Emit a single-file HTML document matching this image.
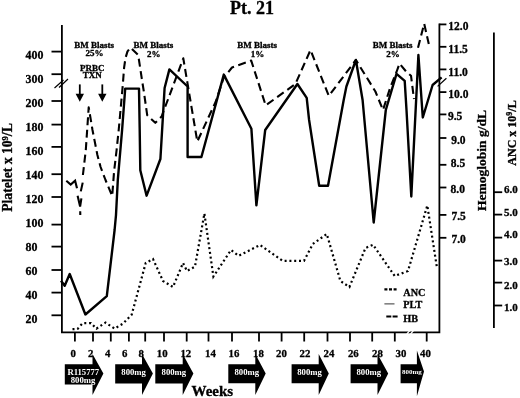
<!DOCTYPE html>
<html><head><meta charset="utf-8"><title>Pt. 21</title>
<style>html,body{margin:0;padding:0;background:#fff}svg{display:block}text{stroke:#000;stroke-width:.3px}.w text{stroke:none}</style></head>
<body>
<svg width="520" height="398" viewBox="0 0 520 398" font-family="Liberation Serif, serif" font-weight="bold" fill="#000">
<rect width="520" height="398" fill="#fff"/>
<g stroke="#000" stroke-width="1.8" fill="none" stroke-linecap="butt">
<path d="M61.9 25V333.2M61 332.3H440.3M439.4 23.5V333.2M493.9 32.5V328"/>
<path d="M51.5 51.6H61.8"/>
<path d="M51.5 74.2H61.8"/>
<path d="M51.5 101H61.8"/>
<path d="M51.5 124.6H61.8"/>
<path d="M51.5 146.9H61.8"/>
<path d="M51.5 174.2H61.8"/>
<path d="M51.5 197H61.8"/>
<path d="M51.5 224.6H61.8"/>
<path d="M51.5 246.6H61.8"/>
<path d="M51.5 270H61.8"/>
<path d="M51.5 292.6H61.8"/>
<path d="M51.5 315.3H61.8"/>
<path d="M439.4 24.4H446.4"/>
<path d="M439.4 46.8H446.4"/>
<path d="M439.4 69.4H446.4"/>
<path d="M439.4 92.1H446.4"/>
<path d="M439.4 114.4H446.4"/>
<path d="M439.4 138H446.4"/>
<path d="M439.4 164.8H446.4"/>
<path d="M439.4 187.5H446.4"/>
<path d="M439.4 214.9H446.4"/>
<path d="M439.4 237.8H446.4"/>
<path d="M493.9 192.2H502.2"/>
<path d="M493.9 214.6H502.2"/>
<path d="M493.9 237.6H502.2"/>
<path d="M493.9 260.6H502.2"/>
<path d="M493.9 282.6H502.2"/>
<path d="M493.9 305.5H502.2"/>
<path d="M74.9 332.3V341.5"/>
<path d="M93 332.3V341.5"/>
<path d="M110.8 332.3V341.5"/>
<path d="M128.9 332.3V341.5"/>
<path d="M145.2 332.3V341.5"/>
<path d="M164 332.3V341.5"/>
<path d="M186.7 332.3V341.5"/>
<path d="M208.5 332.3V341.5"/>
<path d="M232 332.3V341.5"/>
<path d="M259 332.3V341.5"/>
<path d="M281.6 332.3V341.5"/>
<path d="M304.2 332.3V341.5"/>
<path d="M327.5 332.3V341.5"/>
<path d="M350 332.3V341.5"/>
<path d="M372.2 332.3V341.5"/>
<path d="M394.8 332.3V341.5"/>
<path d="M426.7 332.3V341.5"/>
</g>
<g stroke="#000" stroke-width="1.2"><path d="M54.5 88L63.5 80M59 87.5L68 79"/><path d="M437.6 86.4L446.4 78.2"/></g>
<path d="M406.8 334L409.8 330.6M410.5 334L413.5 330.6" stroke="#fff" stroke-width="1.2"/>
<g font-size="11.5">
<text x="25.5" y="58.5" font-size="11.9">400</text>
<text x="25.5" y="82.6" font-size="11.9">300</text>
<text x="25.5" y="106.7" font-size="11.9">200</text>
<text x="25.5" y="130.6" font-size="11.9">180</text>
<text x="25.5" y="154.5" font-size="11.9">160</text>
<text x="25.5" y="178.8" font-size="11.9">140</text>
<text x="25.5" y="202.8" font-size="11.9">120</text>
<text x="25.5" y="226.7" font-size="11.9">100</text>
<text x="25.5" y="250.8" font-size="11.9">80</text>
<text x="25.5" y="274.7" font-size="11.9">60</text>
<text x="25.5" y="299.1" font-size="11.9">40</text>
<text x="25.5" y="323.0" font-size="11.9">20</text>
<text x="448.3" y="29.8">12.0</text>
<text x="448.3" y="52.7">11.5</text>
<text x="448.3" y="76.1">11.0</text>
<text x="448.3" y="98.4">10.0</text>
<text x="447.9" y="120.3">9.5</text>
<text x="451.2" y="143.7">9.0</text>
<text x="450.8" y="167">8.5</text>
<text x="450.5" y="193.4">8.0</text>
<text x="451.4" y="219.5">7.5</text>
<text x="451.4" y="242.5">7.0</text>
<text x="504" y="193.2" font-size="11">6.0</text>
<text x="504" y="215.8" font-size="11">5.0</text>
<text x="504" y="238.2" font-size="11">4.0</text>
<text x="504" y="265" font-size="11">3.0</text>
<text x="504" y="288.8" font-size="11">2.0</text>
<text x="504" y="310.5" font-size="11">1.0</text>
<text x="73.2" y="356.9" text-anchor="middle" font-size="10.8">0</text>
<text x="90.6" y="356.9" text-anchor="middle" font-size="10.8">2</text>
<text x="107.6" y="356.9" text-anchor="middle" font-size="10.8">4</text>
<text x="124.6" y="356.9" text-anchor="middle" font-size="10.8">6</text>
<text x="141.3" y="356.9" text-anchor="middle" font-size="10.8">8</text>
<text x="162.2" y="356.9" text-anchor="middle" font-size="10.8">10</text>
<text x="185.8" y="356.9" text-anchor="middle" font-size="10.8">12</text>
<text x="210.4" y="356.9" text-anchor="middle" font-size="10.8">14</text>
<text x="233.9" y="356.9" text-anchor="middle" font-size="10.8">16</text>
<text x="258.5" y="356.9" text-anchor="middle" font-size="10.8">18</text>
<text x="281.4" y="356.9" text-anchor="middle" font-size="10.8">20</text>
<text x="305" y="356.9" text-anchor="middle" font-size="10.8">22</text>
<text x="329" y="356.9" text-anchor="middle" font-size="10.8">24</text>
<text x="353.3" y="356.9" text-anchor="middle" font-size="10.8">26</text>
<text x="377.4" y="356.9" text-anchor="middle" font-size="10.8">28</text>
<text x="401" y="356.9" text-anchor="middle" font-size="10.8">30</text>
<text x="425.5" y="356.9" text-anchor="middle" font-size="10.8">40</text>
</g>
<text x="252" y="14" font-size="18" text-anchor="middle">Pt. 21</text>
<text x="191.5" y="395.5" font-size="15">Weeks</text>
<text transform="translate(11.6 167.5) rotate(-90)" font-size="13.7" text-anchor="middle">Platelet x 10<tspan dy="-4" font-size="8.5">9</tspan><tspan dy="4">/L</tspan></text>
<text transform="translate(486 160.5) rotate(-90)" font-size="13.5" text-anchor="middle">Hemoglobin g/dL</text>
<text transform="translate(516 133) rotate(-90)" font-size="12" text-anchor="middle">ANC x 10<tspan dy="-4" font-size="8">9</tspan><tspan dy="4">/L</tspan></text>
<g font-size="9" text-anchor="middle">
<text x="94.2" y="47.6">BM Blasts</text><text x="94.60000000000001" y="56.4">25%</text>
<text x="153.4" y="47.6">BM Blasts</text><text x="153.8" y="56.5">2%</text>
<text x="257.2" y="47.6">BM Blasts</text><text x="257.59999999999997" y="56.5">1%</text>
<text x="392.6" y="47.6">BM Blasts</text><text x="393.0" y="56.9">2%</text>
<text x="92.2" y="71">PRBC</text><text x="92.2" y="78.2">TXN</text>
</g>
<path d="M79.8 84.4V95" stroke="#000" stroke-width="1.8"/><path d="M75.6 93.8H84.0L79.8 101.7Z"/>
<path d="M102.3 84.4V95" stroke="#000" stroke-width="1.8"/><path d="M98.1 93.8H106.5L102.3 101.7Z"/>
<polyline points="61.0,280.7 64.7,285.7 69.7,274.0 85.4,314.5 106.8,296.2 114.6,230.0 116.0,215.0 117.8,180.0 122.1,130.0 125.2,88.6 139.0,88.6 139.7,130.0 140.3,170.3 146.6,195.7 160.4,159.0 164.6,88.0 169.4,69.4 187.6,86.5 187.6,157.0 201.4,157.0 223.8,74.6 251.4,128.8 256.4,205.4 265.2,130.0 297.4,84.0 306.7,97.8 309.1,120.0 319.2,185.8 328.0,185.8 343.7,100.0 346.4,86.5 355.9,60.0 362.6,100.0 373.7,222.5 385.8,110.0 396.5,73.8 404.7,80.8 406.5,110.0 411.3,196.5 418.4,55.0 422.8,117.5 432.6,85.0 441.6,77.4" fill="none" stroke="#000" stroke-width="2.4" stroke-linejoin="round"/>
<polyline points="82.9,175.0 85.8,150.0 88.7,107.3 92.5,130.0 97.4,155.0 100.6,167.0 105.5,180.0 112.2,196.0 114.1,171.3 116.6,150.0 118.7,130.0 122.8,85.0 124.1,67.7 125.5,58.0 127.5,51.4 130.5,47.6 138.2,55.0 142.0,80.0 144.0,92.6 147.2,115.2 155.3,122.8 161.6,116.5 183.3,58.3 187.0,80.4 197.3,141.5 215.6,102.0 223.6,78.0 232.0,67.5 251.2,60.6 265.7,105.4 295.4,84.0 310.5,50.0 328.8,95.9 355.9,60.0 375.4,91.5 383.0,110.0 390.2,87.7 396.5,72.0 399.5,63.5 406.5,72.0 411.0,75.7 414.0,99.0" fill="none" stroke="#000" stroke-width="2.1" stroke-linejoin="round" stroke-dasharray="8 4.5"/>
<polyline points="66.3,180.7 70.7,184.5 75.1,180.7 77.0,188.3" fill="none" stroke="#000" stroke-width="2.1"/>
<polyline points="77.6,195.8 80.1,206.5 81.4,198.3" fill="none" stroke="#000" stroke-width="2.1"/>
<polyline points="80.2,211.3 80.3,215.0" fill="none" stroke="#000" stroke-width="2.1"/>
<polyline points="80.8,191.4 82.7,182.6" fill="none" stroke="#000" stroke-width="2.1"/>
<polyline points="418.0,47.7 424.2,23.8 429.0,45.0" fill="none" stroke="#000" stroke-width="2.1" stroke-linejoin="round" stroke-dasharray="8 4.5"/>
<polyline points="72.5,329.2 77.5,329.0 82.6,323.2 91.0,323.2 96.5,328.6 105.5,322.6 114.6,328.6 123.0,323.6 131.7,314.6 145.7,263.0 153.0,259.0 163.0,281.0 173.0,287.0 183.0,263.0 187.0,271.0 195.0,266.6 204.4,213.5 213.4,276.6 231.0,250.0 238.7,255.8 260.0,245.0 282.6,260.8 304.0,260.8 312.8,244.0 326.8,234.0 340.4,281.0 349.4,287.0 365.5,248.0 373.0,244.7 394.7,276.0 408.0,271.0 427.3,205.5 437.0,268.0" fill="none" stroke="#000" stroke-width="2.2" stroke-dasharray="2 2.8"/>
<g font-size="10.2"><text x="403.3" y="295.7">ANC</text><text x="403.3" y="308.3">PLT</text><text x="403.3" y="321.5">HB</text></g>
<path d="M384.4 289.4H397.5" stroke="#000" stroke-width="2.3" stroke-dasharray="3 1.6"/>
<path d="M384.4 303.9H394.5" stroke="#000" stroke-width="0.8"/>
<path d="M386.3 316.5H397.6" stroke="#000" stroke-width="2" stroke-dasharray="5 1.3"/>
<path d="M64.8 364.3H92.5V354L103.4 373.6L92.5 395V384.5H64.8Z"/>
<path d="M115.2 364.3H142V354L152.9 373.6L142 395V383.5H115.2Z"/>
<path d="M155.3 364.3H182.7V354L193.4 373.6L182.7 395V383.5H155.3Z"/>
<path d="M228.3 364.3H255.3V354L265.7 373.6L255.3 395V383.2H228.3Z"/>
<path d="M291.6 364.3H318.7V354L328.8 373.6L318.7 395V383.2H291.6Z"/>
<path d="M350.6 364.3H377.5V354L388.2 373.6L377.5 395V383.3H350.6Z"/>
<path d="M400.6 364.3H416.9V350.6L424 371.5L416.9 396.3V383.3H400.6Z"/>
<g class="w" fill="#fff" font-size="8.7" text-anchor="middle">
<text transform="translate(83.3 375) scale(1 .84)">R115777</text><text transform="translate(83 383.2) scale(1 .84)">800mg</text>
<text transform="translate(133.6 374.6) scale(1 .84)">800mg</text>
<text transform="translate(173.9 374.6) scale(1 .84)">800mg</text>
<text transform="translate(246.8 374.6) scale(1 .84)">800mg</text>
<text transform="translate(309.5 374.6) scale(1 .84)">800mg</text>
<text transform="translate(368.8 374.6) scale(1 .84)">800mg</text>
<text transform="translate(411.8 373.8) scale(1 .84)" font-size="7">800mg</text>
</g>
</svg>
</body></html>
